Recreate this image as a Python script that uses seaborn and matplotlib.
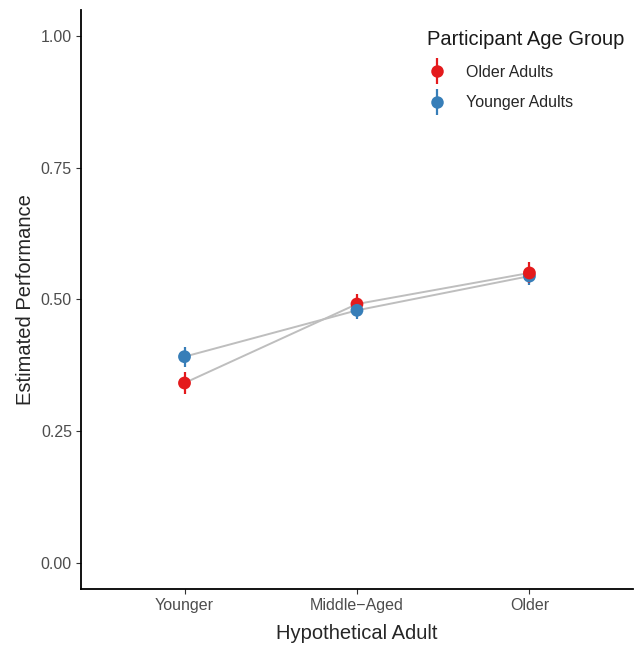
import numpy as np
import pandas as pd
import matplotlib.pyplot as plt
import seaborn as sns
from matplotlib.lines import Line2D
from matplotlib.legend_handler import HandlerTuple

sns.set_style("ticks")
plt.rcParams['font.family'] = ['Liberation Sans', 'DejaVu Sans']

# estimates
adults = ["Younger", "Middle\u2212Aged", "Older"]
groups = ["Older Adults", "Younger Adults"]
older_est = [0.341, 0.491, 0.550]
older_lo = [0.321, 0.472, 0.531]
older_hi = [0.361, 0.510, 0.570]
younger_est = [0.391, 0.479, 0.544]
younger_lo = [0.372, 0.462, 0.527]
younger_hi = [0.410, 0.496, 0.561]

colors = {"Older Adults": "#E41A1C", "Younger Adults": "#377EB8"}

rows = []
for i, a in enumerate(adults):
    rows.append((a, "Older Adults", older_est[i], older_lo[i], older_hi[i]))
    rows.append((a, "Younger Adults", younger_est[i], younger_lo[i], younger_hi[i]))
df = pd.DataFrame(rows, columns=["adult", "group", "est", "lo", "hi"])
# draw order like the original (blue on top in the middle, red on top at the right)
df = df.iloc[[0, 1, 2, 3, 5, 4]].reset_index(drop=True)

fig = plt.figure(figsize=(6.38, 6.45), dpi=100)
ax = fig.add_axes([0.127, 0.087, 0.865, 0.898])

sns.lineplot(data=df, x="adult", y="est", units="group", estimator=None,
             color="#BEBEBE", linewidth=1.4, sort=False, ax=ax, zorder=1)

xpos = {a: i for i, a in enumerate(adults)}
for _, r in df.iterrows():
    ax.vlines(xpos[r.adult], r.lo, r.hi, color=colors[r.group], lw=1.6, zorder=2)
sns.scatterplot(data=df, x="adult", y="est", hue="group", palette=colors,
                s=85, linewidth=0, legend=False, ax=ax, zorder=3)

ax.set_xlim(-0.6, 2.6)
ax.set_ylim(-0.05, 1.05)
ax.set_yticks([0, 0.25, 0.5, 0.75, 1.0])
ax.set_yticklabels(["0.00", "0.25", "0.50", "0.75", "1.00"])
ax.set_xlabel("Hypothetical Adult", fontsize=14.5, labelpad=8)
ax.set_ylabel("Estimated Performance", fontsize=14.5, labelpad=4)
ax.tick_params(labelsize=11.5, labelcolor="#4D4D4D", length=3.5, width=0.8,
               color="#333333", pad=3)
for s in ["left", "bottom"]:
    ax.spines[s].set_linewidth(1.3)
    ax.spines[s].set_color("black")
sns.despine(ax=ax)

handles = []
for g in groups:
    bar = Line2D([], [], marker="|", markersize=19, markeredgewidth=1.6,
                 color=colors[g], linestyle="none")
    dot = Line2D([], [], marker="o", markersize=9, markeredgewidth=0,
                 color=colors[g], linestyle="none")
    handles.append((bar, dot))
leg = ax.legend(handles, groups, title="Participant Age Group", loc="upper right",
                frameon=False, fontsize=11.5, title_fontsize=14.5,
                handler_map={tuple: HandlerTuple(ndivide=1, pad=0)},
                bbox_to_anchor=(1.005, 0.985), labelspacing=1.0,
                handlelength=1.2, handletextpad=1.25, borderaxespad=0.3)
leg._legend_box.align = "left"
leg.get_title().set_color("#1A1A1A")

fig.savefig("out.png", dpi=100)
